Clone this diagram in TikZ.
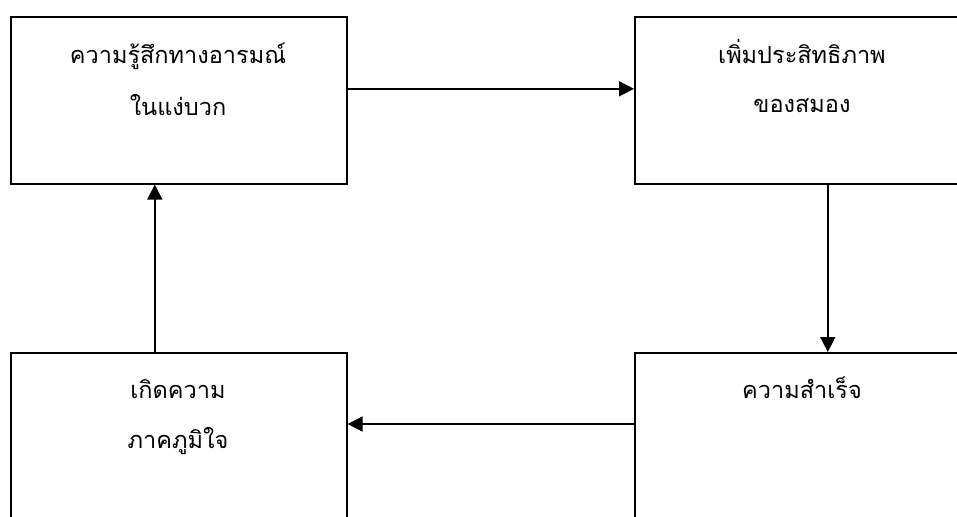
\documentclass[tikz,border=0pt]{standalone}
\usepackage{fontspec}
\newfontfamily\thaifont[Script=Thai]{Loma}
\usetikzlibrary{arrows.meta}
\tikzset{
  box/.style={draw, line width=1.6pt, minimum width=336pt, minimum height=167pt, inner sep=0pt, anchor=north west},
  lbl/.style={font=\thaifont\fontsize{23.5}{51}\selectfont, align=center, anchor=base, inner sep=0pt},
  arr/.style={line width=1.6pt, -{Triangle[length=15pt,width=15pt]}}
}
\begin{document}
\begin{tikzpicture}[x=1pt,y=-1pt]
\useasboundingbox (0,0) rectangle (957,516);
\clip (0,0) rectangle (957,516);
\node[box] (a) at (10,16) {};
\node[box] (b) at (634,16) {};
\node[box] (c) at (634,352) {};
\node[box] (d) at (10,352) {};
\node[lbl] (ta) at (178,64) {ความรู้สึกทางอารมณ์};
\node[lbl] (ta2) at (178,116) {ในแง่บวก};
\node[lbl] (tb) at (802,64) {เพิ่มประสิทธิภาพ};
\node[lbl] (tb2) at (802,113) {ของสมอง};
\node[lbl] (tc) at (802,398) {ความสำเร็จ};
\node[lbl] (td) at (178,398) {เกิดความ};
\node[lbl] (td2) at (178,448) {ภาคภูมิใจ};
\draw[arr] ([yshift=11.5pt]a.east) -- ([yshift=11.5pt]b.west);
\draw[arr] ([xshift=25pt]b.south) -- ([xshift=25pt]c.north);
\draw[arr] ([yshift=-72pt]c.north west) -- ([yshift=-72pt]d.north east);
\draw[arr] ([xshift=-24pt]d.north) -- ([xshift=-24pt]a.south);
\end{tikzpicture}
\end{document}
